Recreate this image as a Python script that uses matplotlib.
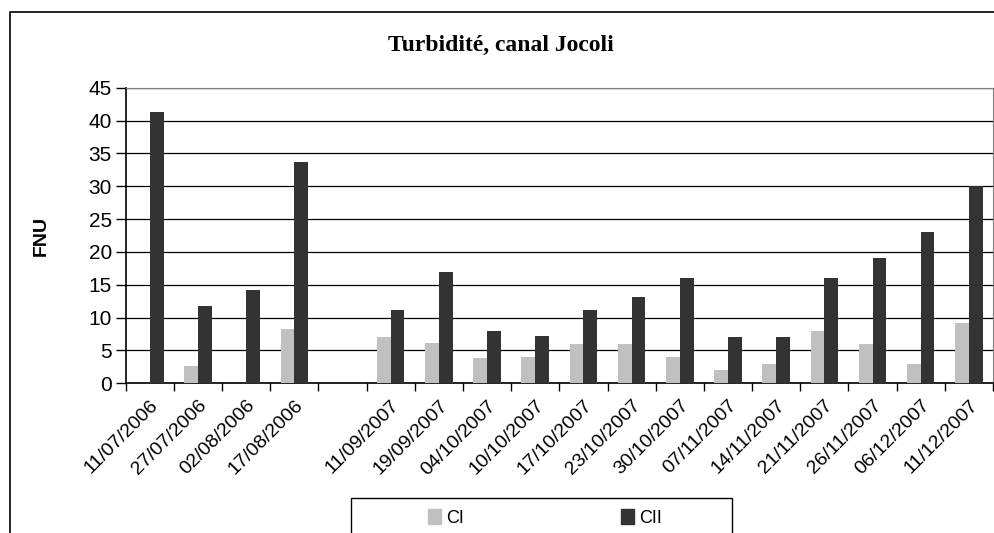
import numpy as np
import matplotlib.pyplot as plt
from matplotlib.patches import Rectangle, Patch

dates = ["11/07/2006", "27/07/2006", "02/08/2006", "17/08/2006", "",
         "11/09/2007", "19/09/2007", "04/10/2007", "10/10/2007", "17/10/2007",
         "23/10/2007", "30/10/2007", "07/11/2007", "14/11/2007", "21/11/2007",
         "26/11/2007", "06/12/2007", "11/12/2007"]
ci = [0, 2.6, 0, 8.2, 0, 7.1, 6.2, 3.9, 4, 6, 6, 4, 2, 3, 8, 6, 3, 9.2]
cii = [41.3, 11.8, 14.2, 33.7, 0, 11.1, 17, 7.9, 7.2, 11.1, 13.1, 16, 7.1, 7.1, 16, 19.1, 23, 30]

plt.rcParams['font.family'] = ['Liberation Sans', 'DejaVu Sans']

fig = plt.figure(figsize=(9.95, 5.33), dpi=100)
ax = fig.add_axes([0.1263, 0.281, 0.8717, 0.5545])

x = np.arange(len(dates))
w = 1 / 3.5
ax.bar(x - w / 2, ci, w, color="#c0c0c0", label="CI", zorder=3)
ax.bar(x + w / 2, cii, w, color="#333333", label="CII", zorder=3)

ax.set_xlim(-0.5, len(dates) - 0.5)
ax.set_ylim(0, 45)
ax.set_yticks(range(0, 46, 5))
ax.tick_params(axis='y', labelsize=15, length=7, width=1, direction='out', pad=3)
ax.yaxis.grid(True, color="black", linewidth=0.9, zorder=0)

ax.set_xticks(x)
ax.set_xticklabels(dates, rotation=45, ha='right', rotation_mode='anchor', fontsize=14)
ax.set_xticks(np.arange(-0.5, len(dates), 1), minor=True)
ax.tick_params(axis='x', which='major', length=0, pad=10)
ax.tick_params(axis='x', which='minor', length=6, width=1, direction='out')

for side in ['top', 'right']:
    ax.spines[side].set_color("#808080")
for side in ['left', 'bottom']:
    ax.spines[side].set_color("black")
    ax.spines[side].set_linewidth(1.2)

ax.set_ylabel("FNU", fontsize=14, fontweight='bold')
ax.yaxis.set_label_coords(-0.088, 0.5)

fig.text(0.503, 0.914, "Turbidité, canal Jocoli", family="Liberation Serif",
         fontsize=17, fontweight='bold', ha='center', va='center')

# outer chart border
fig.patches.append(Rectangle((0.010, -0.05), 1.1, 1.0275, transform=fig.transFigure,
                             fill=False, edgecolor="black", linewidth=1.2))
# legend box
fig.patches.append(Rectangle((0.353, -0.05), 0.383, 0.1157, transform=fig.transFigure,
                             fill=False, edgecolor="black", linewidth=1))
handles = [Patch(color="#c0c0c0", label="CI"), Patch(color="#333333", label="CII")]
fig.legend(handles=handles, ncol=2, loc='center', bbox_to_anchor=(0.548, 0.028),
           frameon=False, fontsize=13, handlelength=0.7, handleheight=0.9,
           handletextpad=0.3, columnspacing=8.7)

fig.savefig("out.png", dpi=100)
